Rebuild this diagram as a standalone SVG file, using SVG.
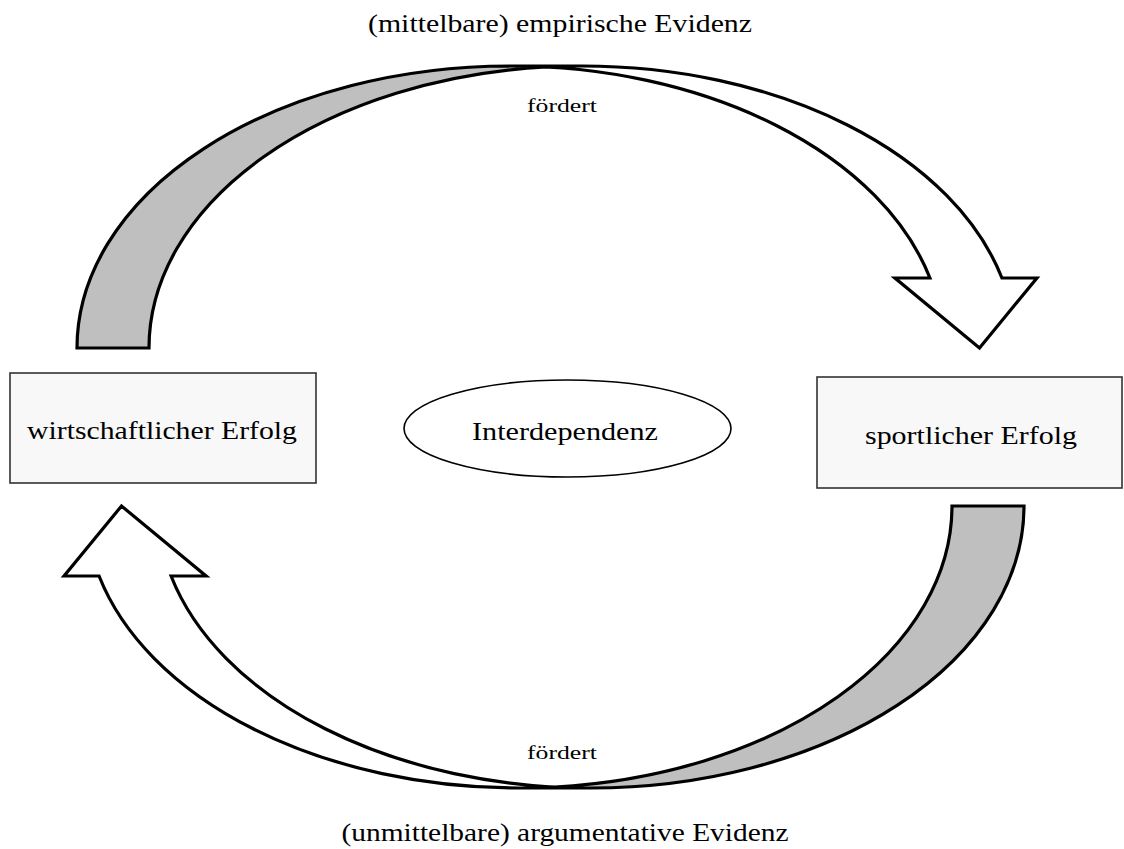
<svg xmlns="http://www.w3.org/2000/svg" width="1124" height="849" viewBox="0 0 1124 849">
<style>
.lbl{font-family:"Liberation Serif","Times New Roman",Times,serif;fill:#000;text-anchor:middle}
.big{font-size:25px}
.small{font-size:19px}
.box{fill:#f8f8f8;stroke:#333;stroke-width:1.6}
.oval{fill:#fff;stroke:#000;stroke-width:1.6}
.face{fill:#fff;stroke:none}
.back{fill:#bfbfbf;stroke:none}
.edge{fill:none;stroke:#000;stroke-width:3.2;stroke-linejoin:miter}
</style>
<defs>
<g id="curvedArrow">
<path class="face" d="M979.5 348 L894.93 278 L929.93 278 A433.25 282 0 0 0 510.25 66 L582.25 66 A433.25 282 0 0 1 1001.93 278 L1036.93 278 Z"/>
<path class="back" d="M546.25 66.98 A433.25 282 0 0 0 149 348 L77 348 A433.25 282 0 0 1 546.25 66.98 Z"/>
<path class="edge" d="M546.25 66.98 A433.25 282 0 0 0 149 348 L77 348 A433.25 282 0 0 1 510.25 66 L582.25 66 A433.25 282 0 0 1 1001.93 278 L1036.93 278 L979.5 348 L894.93 278 L929.93 278 A433.25 282 0 0 0 510.25 66"/>
</g>
</defs>
<rect width="1124" height="849" fill="#fff"/>
<g id="connectors">
<use id="arrow-top" href="#curvedArrow"/>
<use id="arrow-bottom" href="#curvedArrow" transform="rotate(180 550.5 427)"/>
<text class="lbl small" x="562" y="112" textLength="70" lengthAdjust="spacingAndGlyphs">fördert</text>
<text class="lbl small" x="562" y="759" textLength="70" lengthAdjust="spacingAndGlyphs">fördert</text>
</g>
<g id="title-top">
<text class="lbl big" x="560" y="32" textLength="384" lengthAdjust="spacingAndGlyphs">(mittelbare) empirische Evidenz</text>
</g>
<g id="title-bottom">
<text class="lbl big" x="565" y="841" textLength="447" lengthAdjust="spacingAndGlyphs">(unmittelbare) argumentative Evidenz</text>
</g>
<g id="node-wirtschaft">
<rect class="box" x="10" y="373" width="306" height="110"/>
<text class="lbl big" x="162" y="439" textLength="270" lengthAdjust="spacingAndGlyphs">wirtschaftlicher Erfolg</text>
</g>
<g id="node-interdependenz">
<ellipse class="oval" cx="567.5" cy="428.5" rx="163.5" ry="48.5"/>
<text class="lbl big" x="565" y="440" textLength="186" lengthAdjust="spacingAndGlyphs">Interdependenz</text>
</g>
<g id="node-sport">
<rect class="box" x="817" y="377" width="305" height="111"/>
<text class="lbl big" x="971" y="444" textLength="212" lengthAdjust="spacingAndGlyphs">sportlicher Erfolg</text>
</g>
</svg>
